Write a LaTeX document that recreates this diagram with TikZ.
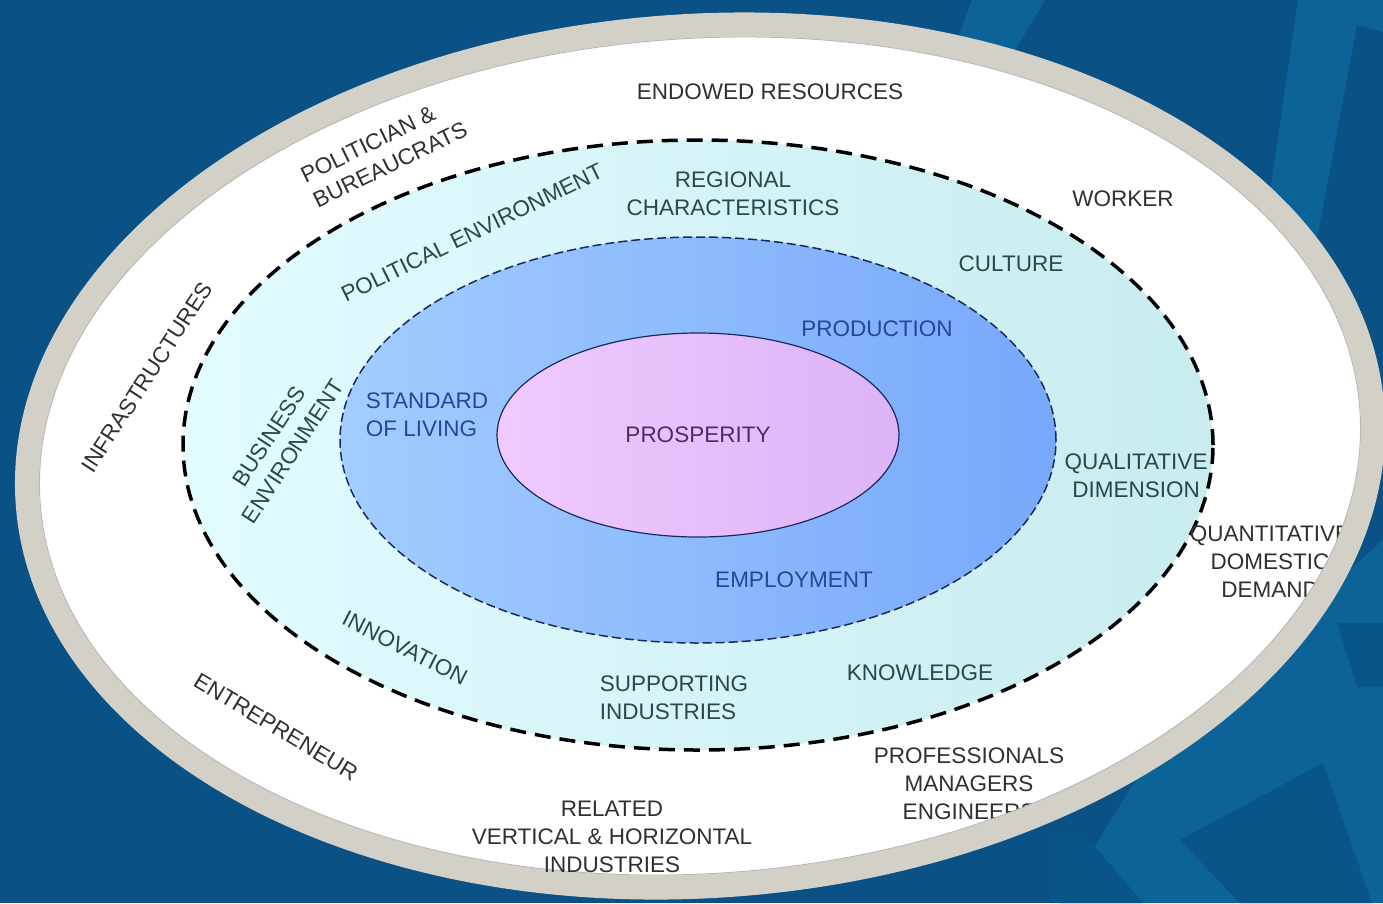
\documentclass[tikz,border=0pt]{standalone}
\usepackage{fontspec}
\setmainfont{Liberation Sans}
\usetikzlibrary{shapes.geometric}
\definecolor{bg}{HTML}{0A5186}
\definecolor{bgl}{HTML}{0B6397}
\definecolor{bgd}{HTML}{095488}
\definecolor{ringc}{HTML}{D3D0C8}
\definecolor{cy1}{HTML}{E2FCFF}
\definecolor{cy2}{HTML}{C9ECEF}
\definecolor{bl1}{HTML}{A2CDFF}
\definecolor{bl2}{HTML}{77A8FA}
\definecolor{pk1}{HTML}{F0CAFF}
\definecolor{pk2}{HTML}{DCB3F6}
\definecolor{navy}{HTML}{1B2A5E}
\definecolor{outc}{HTML}{303030}
\definecolor{envc}{HTML}{2B474C}
\definecolor{ecoc}{HTML}{24479C}
\definecolor{corec}{HTML}{4A2E68}
\begin{document}
\begin{tikzpicture}[x=1pt,y=-1pt,
  lbl/.style={font=\fontsize{22.5}{28}\selectfont, align=center, inner sep=0pt},
  outertxt/.style={lbl, text=outc},
  envtxt/.style={lbl, text=envc},
  ecotxt/.style={lbl, text=ecoc},
  oval/.style={ellipse, inner sep=0pt, outer sep=0pt}
]
\useasboundingbox (0,0) rectangle (1383,903);
\fill[bg] (0,0) rectangle (1383,903);
% background decoration on the right
\fill[bgl] (972,0) -- (1045,0) -- (1000,75) -- (945,75) -- cycle;
\fill[bgl] (1298,0) -- (1383,0) -- (1383,32) -- (1357,25) -- (1300,330) -- (1250,330) -- cycle;
\fill[bgl] (1383,540) -- (1383,903) -- (1060,903) -- (1160,740) -- cycle;
\fill[bgd] (1180,840) -- (1323,763) -- (1372,903) -- (1240,903) -- cycle;
\fill[bgd] (1337,623) -- (1383,623) -- (1383,687) -- (1357,687) -- cycle;
\fill[bgd] (1050,833) -- (1083,833) -- (1143,903) -- (1050,903) -- cycle;

% white field
\node[oval, rotate=4, minimum width=1326pt, minimum height=838pt, fill=white] (field) at (700,456) {};

% environment ring
\node[oval, minimum width=1030pt, minimum height=610pt, left color=cy1, right color=cy2,
  draw=black, line width=3.5pt, dash pattern=on 16pt off 9pt] (envring) at (698,445) {};

% economy ring
\node[oval, minimum width=716pt, minimum height=406pt, left color=bl1, right color=bl2,
  draw=navy, line width=1.5pt, dash pattern=on 9pt off 4pt] (ecoring) at (698,440) {};

% core
\node[oval, minimum width=402pt, minimum height=204pt, left color=pk1, right color=pk2,
  draw=navy, line width=1.2pt, text=corec, font=\fontsize{22.5}{28}\selectfont] (core) at (698,435) {PROSPERITY};

% economy labels
\node[ecotxt, align=left] (sol) at (427,415) {STANDARD\\OF LIVING};
\node[ecotxt] (prod) at (877,329) {PRODUCTION};
\node[ecotxt] (empl) at (794,580) {EMPLOYMENT};

% environment labels
\node[envtxt] (reg) at (733,194) {REGIONAL\\CHARACTERISTICS};
\node[envtxt] (cult) at (1011,264) {CULTURE};
\node[envtxt] (qual) at (1136,476) {QUALITATIVE\\DIMENSION};
\node[envtxt] (know) at (920,673) {KNOWLEDGE};
\node[envtxt, align=left] (supp) at (674,698) {SUPPORTING\\INDUSTRIES};
\node[envtxt, rotate=-27] (innov) at (405,648) {INNOVATION};
\node[envtxt, rotate=57] (busi) at (281,444) {BUSINESS\\ENVIRONMENT};
\node[envtxt, rotate=26] (poli) at (472,233) {POLITICAL ENVIRONMENT};

% outer labels
\node[outertxt] (endow) at (770,92) {ENDOWED RESOURCES};
\node[outertxt] (work) at (1123,199) {WORKER};
\node[outertxt] (quant) at (1270,562) {QUANTITATIVE\\DOMESTIC\\DEMAND};
\node[outertxt] (prof) at (969,784) {PROFESSIONALS\\MANAGERS\\ENGINEERS};
\node[outertxt, rotate=-31] (entr) at (276,727) {ENTREPRENEUR};
\node[outertxt, rotate=57] (infra) at (147,377) {INFRASTRUCTURES};
\node[outertxt, align=left, rotate=26] (polb) at (384,152) {POLITICIAN \&\\BUREAUCRATS};

% rim on top
\node[oval, rotate=4, minimum width=1348pt, minimum height=860pt, draw=ringc, line width=24pt] (rim) at (700,456) {};
\node[oval, rotate=4, minimum width=1323pt, minimum height=835pt, draw=gray!55, line width=1pt] (rimshade) at (700,456) {};

% label that lies over the rim
\node[outertxt] (rel) at (612,837) {RELATED\\VERTICAL \& HORIZONTAL\\INDUSTRIES};
\end{tikzpicture}
\end{document}
